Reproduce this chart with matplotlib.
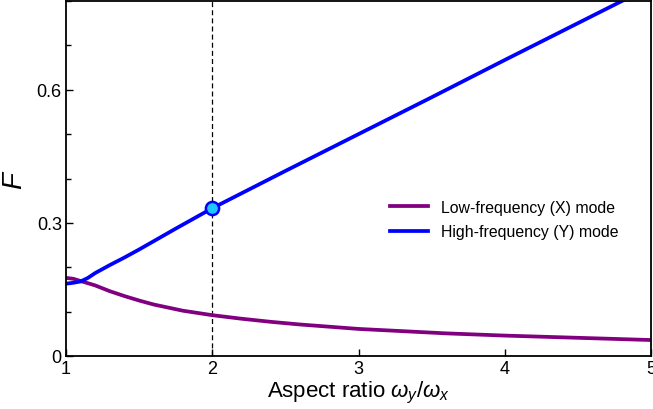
import numpy as np
import matplotlib
matplotlib.use("Agg")
import matplotlib.pyplot as plt
from matplotlib.ticker import MultipleLocator

plt.rcParams['font.family'] = ['Liberation Sans', 'DejaVu Sans']
plt.rcParams['mathtext.fontset'] = 'custom'
plt.rcParams['mathtext.it'] = 'Liberation Sans:italic'
plt.rcParams['mathtext.rm'] = 'Liberation Sans'

# values
ratio_low = [1.0, 1.05, 1.1, 1.2, 1.3, 1.4, 1.5, 1.6, 1.7, 1.8, 1.9, 2.0, 2.2, 2.4, 2.6,
             2.8, 3.0, 3.3, 3.6, 4.0, 4.5, 5.0]
F_low = [0.176, 0.174, 0.169, 0.159, 0.146, 0.135, 0.125, 0.116, 0.109, 0.102, 0.097, 0.092,
         0.084, 0.077, 0.071, 0.066, 0.061, 0.056, 0.051, 0.046, 0.041, 0.036]

ratio_high = [1.0, 1.05, 1.1, 1.15, 1.2, 1.3, 1.4, 1.5, 1.75, 2.0, 2.5, 3.0, 3.5, 4.0, 4.5, 5.0]
F_high = [0.163, 0.165, 0.168, 0.176, 0.187, 0.205, 0.222, 0.240, 0.287, 0.333, 0.417, 0.500,
          0.583, 0.667, 0.750, 0.833]

marker_x = 2.0
marker_F = 0.333

fig = plt.figure(figsize=(6.53, 4.10), dpi=100)
ax = fig.add_axes([66/653, 1 - 357/410, 585/653, 355/410])

ax.plot(ratio_low, F_low, color='#800080', lw=2.7, label='Low-frequency (X) mode')
ax.plot(ratio_high, F_high, color='#0000FF', lw=2.7, label='High-frequency (Y) mode')
ax.axvline(marker_x, color='black', ls='--', lw=0.9, dashes=(4, 2.5), zorder=1)
ax.plot([marker_x], [marker_F], 'o', ms=9.5, mfc='#1EC8FF', mec='#0000FF', mew=1.8, zorder=5)

ax.set_xlim(1, 5)
ax.set_ylim(0, 0.8)
ax.set_xticks([1, 2, 3, 4, 5])
ax.set_yticks([0, 0.3, 0.6])
ax.set_yticklabels(['0', '0.3', '0.6'])
ax.yaxis.set_minor_locator(MultipleLocator(0.1))
ax.tick_params(direction='in', labelsize=13, length=5, width=1, pad=3)
ax.tick_params(which='minor', direction='in', length=3.5, width=1)
for s in ax.spines.values():
    s.set_linewidth(1.3)

ax.set_xlabel(r'Aspect ratio $\omega_y/\omega_x$', fontsize=16, labelpad=1)
ax.set_ylabel(r'$F$', fontsize=20, labelpad=6)

ax.legend(loc='center left', bbox_to_anchor=(0.53, 0.385), frameon=False,
          fontsize=11.4, handlelength=2.4, labelspacing=0.6)

fig.savefig('out.png', dpi=100)
